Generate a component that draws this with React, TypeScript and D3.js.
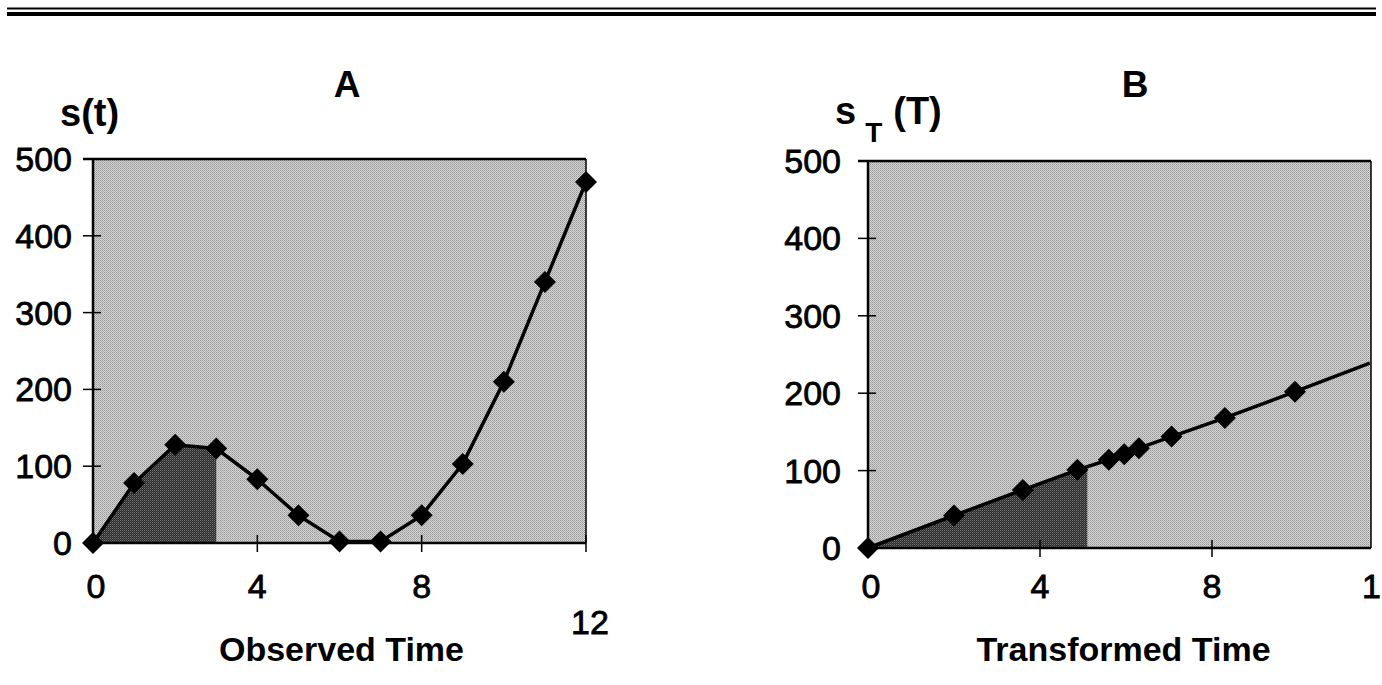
import React from "react";
import * as d3 from "d3";

// Panel A: observed time
const timeA = [0, 1, 2, 3, 4, 5, 6, 7, 8, 9, 10, 11, 12];
const valueA = [0, 78, 128, 123, 83, 36, 2, 2, 36, 103, 210, 340, 470];
const shadeEndA = 3;

// Panel B: transformed time
const timeB = [0, 2.0, 3.6, 4.87, 5.6, 5.96, 6.3, 7.06, 8.3, 9.93];
const valueB = [0, 42, 75, 101, 114, 121, 129, 144, 168, 202];
const lineEndB = { t: 11.67, v: 239 };
const shadeEndB = 5.1;

const yTicks = [0, 100, 200, 300, 400, 500];
const xTicks = [0, 4, 8, 12];

const FONT = "'Liberation Sans', Arial, sans-serif";

type Pt = { t: number; v: number };

const drawPanel = (svg, opts) => {
  const { x0, x12, plotRight, y0, y500, points, linePoints, shadeEnd, title, titleX, xLabel, labelOffsets, yLabelRight } = opts;

  const x = d3.scaleLinear().domain([0, 12]).range([x0, x12]);
  const y = d3.scaleLinear().domain([0, 500]).range([y0, y500]);

  const g = svg.append("g");

  // plot background (stipple)
  g.append("rect")
    .attr("x", x0)
    .attr("y", y500)
    .attr("width", plotRight - x0)
    .attr("height", y0 - y500)
    .attr("fill", "url(#stippleLight)");

  // shaded area under the curve
  const interp = d3.scaleLinear().domain(linePoints.map((d: Pt) => d.t)).range(linePoints.map((d: Pt) => d.v));
  const shadePts = linePoints.filter((d: Pt) => d.t < shadeEnd).concat([{ t: shadeEnd, v: interp(shadeEnd) }]);
  const area = d3
    .area<Pt>()
    .x((d) => x(d.t))
    .y0(y(0))
    .y1((d) => y(d.v));
  g.append("path").attr("d", area(shadePts)).attr("fill", "url(#stippleDark)");

  // frame
  g.append("line").attr("x1", x0 - 10).attr("x2", plotRight).attr("y1", y500).attr("y2", y500)
    .attr("stroke", "#000").attr("stroke-width", 2.5);
  g.append("line").attr("x1", plotRight).attr("x2", plotRight).attr("y1", y500).attr("y2", y0)
    .attr("stroke", "#000").attr("stroke-width", 1.5);
  g.append("line").attr("x1", x0).attr("x2", x0).attr("y1", y500).attr("y2", y0 + 1)
    .attr("stroke", "#000").attr("stroke-width", 2.5);
  g.append("line").attr("x1", x0).attr("x2", plotRight).attr("y1", y0).attr("y2", y0)
    .attr("stroke", "#000").attr("stroke-width", 2.5);

  // y ticks and labels
  yTicks.forEach((v) => {
    g.append("line").attr("x1", x0 - 10).attr("x2", x0 + 8).attr("y1", y(v)).attr("y2", y(v))
      .attr("stroke", "#000").attr("stroke-width", 1.5);
    g.append("text").attr("x", yLabelRight).attr("y", y(v) + 12)
      .attr("text-anchor", "end").attr("font-family", FONT).attr("font-size", 34)
      .attr("stroke", "#000").attr("stroke-width", 0.8)
      .text(v);
  });

  // x ticks and labels
  xTicks.forEach((t, i) => {
    if (t > 0) {
      g.append("line").attr("x1", x(t)).attr("x2", x(t)).attr("y1", y0 - 8).attr("y2", y0 + 9)
        .attr("stroke", "#000").attr("stroke-width", 1.5);
    }
    g.append("text").attr("x", x(t) + labelOffsets[i][0]).attr("y", 600 + labelOffsets[i][1])
      .attr("text-anchor", "middle").attr("font-family", FONT).attr("font-size", 34)
      .attr("stroke", "#000").attr("stroke-width", 0.8)
      .text(t);
  });

  // line
  const line = d3
    .line<Pt>()
    .x((d) => x(d.t))
    .y((d) => y(d.v));
  g.append("path").attr("d", line(linePoints)).attr("fill", "none")
    .attr("stroke", "#000").attr("stroke-width", 3.5);

  // diamond markers
  const r = 11;
  g.selectAll(".mark")
    .data(points)
    .enter()
    .append("path")
    .attr("d", (d: Pt) => {
      const cx = x(d.t);
      const cy = y(d.v);
      return `M${cx},${cy - r}L${cx + r},${cy}L${cx},${cy + r}L${cx - r},${cy}Z`;
    })
    .attr("fill", "#000");

  // title and x label
  g.append("text").attr("x", titleX).attr("y", 97).attr("text-anchor", "middle")
    .attr("font-family", FONT).attr("font-weight", "bold").attr("font-size", 37).text(title);
  g.append("text").attr("x", (x0 + plotRight) / 2 + opts.xLabelShift).attr("y", 661).attr("text-anchor", "middle")
    .attr("font-family", FONT).attr("font-weight", "bold").attr("font-size", 34).text(xLabel);
};

const App = () => {
  const svgRef = React.useRef<SVGSVGElement>(null);

  React.useEffect(() => {
    const svg = d3.select(svgRef.current);
    svg.selectAll("*").remove();

    // halftone-like fills
    const defs = svg.append("defs");
    const light = defs.append("pattern").attr("id", "stippleLight").attr("patternUnits", "userSpaceOnUse")
      .attr("width", 2).attr("height", 2);
    light.append("rect").attr("width", 2).attr("height", 2).attr("fill", "#d2d2d2");
    light.append("rect").attr("width", 1).attr("height", 1).attr("fill", "#9a9a9a");
    light.append("rect").attr("x", 1).attr("y", 1).attr("width", 1).attr("height", 1).attr("fill", "#b0b0b0");
    const dark = defs.append("pattern").attr("id", "stippleDark").attr("patternUnits", "userSpaceOnUse")
      .attr("width", 2).attr("height", 2);
    dark.append("rect").attr("width", 2).attr("height", 2).attr("fill", "#2a2a2a");
    dark.append("rect").attr("width", 1).attr("height", 1).attr("fill", "#777");
    dark.append("rect").attr("x", 1).attr("y", 1).attr("width", 1).attr("height", 1).attr("fill", "#4a4a4a");

    // double rule at the top
    svg.append("line").attr("x1", 7).attr("x2", 1376).attr("y1", 8.5).attr("y2", 8.5)
      .attr("stroke", "#000").attr("stroke-width", 2);
    svg.append("line").attr("x1", 7).attr("x2", 1376).attr("y1", 14).attr("y2", 14)
      .attr("stroke", "#000").attr("stroke-width", 4);

    const ptsA = timeA.map((t, i) => ({ t, v: valueA[i] }));
    const ptsB = timeB.map((t, i) => ({ t, v: valueB[i] }));

    drawPanel(svg, {
      x0: 93, x12: 586, plotRight: 586, y0: 543, y500: 159,
      points: ptsA, linePoints: ptsA, shadeEnd: shadeEndA,
      title: "A", titleX: 347, xLabel: "Observed Time", xLabelShift: 2,
      labelOffsets: [[3, -2], [0, -2], [0, -2], [4, 34]], yLabelRight: 72,
    });

    drawPanel(svg, {
      x0: 868, x12: 1384, plotRight: 1371, y0: 548, y500: 161,
      points: ptsB, linePoints: ptsB.concat([lineEndB]), shadeEnd: shadeEndB,
      title: "B", titleX: 1135, xLabel: "Transformed Time", xLabelShift: 4,
      labelOffsets: [[3, -2], [0, -2], [0, -2], [-3, -2]], yLabelRight: 841,
    });

    // y axis titles
    svg.append("text").attr("x", 60).attr("y", 126).attr("font-family", FONT)
      .attr("font-weight", "bold").attr("font-size", 38).text("s(t)");
    const sT = svg.append("text").attr("x", 835).attr("y", 124).attr("font-family", FONT)
      .attr("font-weight", "bold").attr("font-size", 38);
    sT.append("tspan").text("s");
    sT.append("tspan").attr("dx", 9).attr("dy", 18).attr("font-size", 28).text("T");
    sT.append("tspan").attr("dx", 11).attr("dy", -18).text("(T)");
  }, []);

  return (
    <svg
      ref={svgRef}
      width={1382}
      height={685}
      style={{ position: "absolute", left: 0, top: 0, background: "#fff" }}
    />
  );
};

export default App;
